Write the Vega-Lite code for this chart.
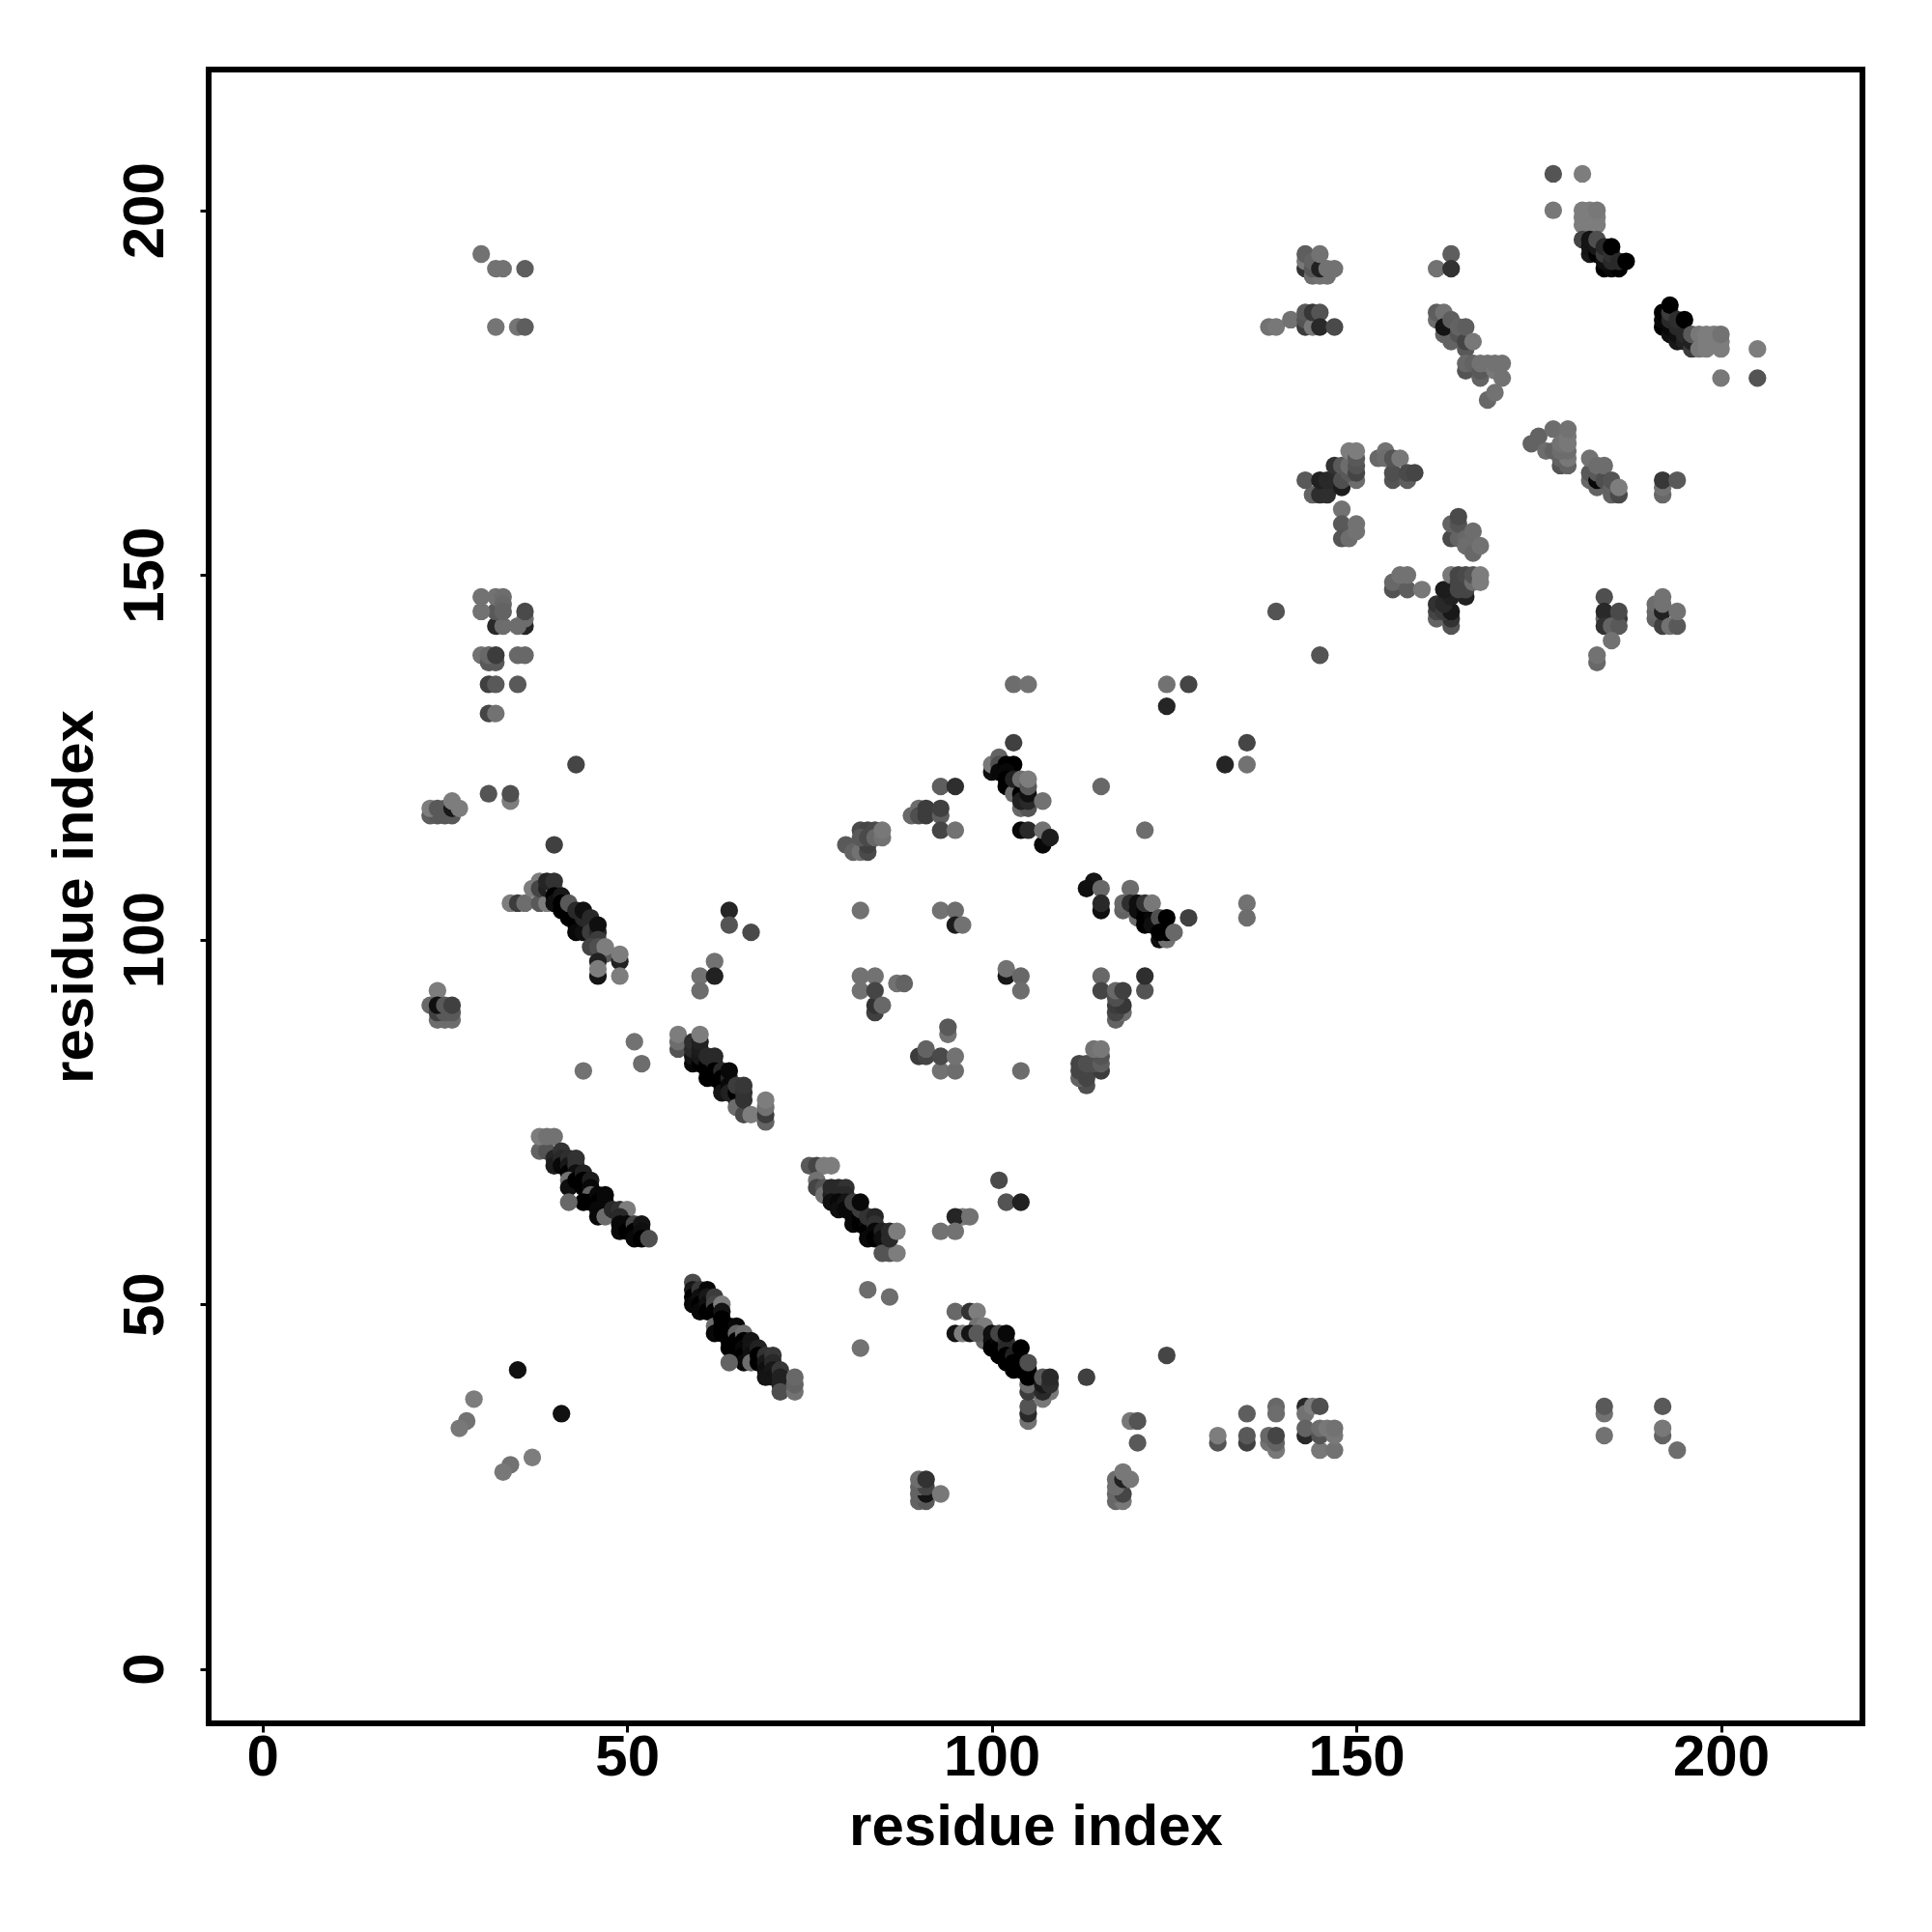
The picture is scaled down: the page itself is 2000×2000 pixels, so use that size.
{"$schema":"https://vega.github.io/schema/vega-lite/v6.json","autosize":"none","width":1712,"height":1712,"padding":{"left":216,"top":72,"right":72,"bottom":216},"background":"white","config":{"view":{"stroke":"#000000","strokeWidth":6}},"data":{"values":[
{"i":30,"j":194,"score":115},{"i":32,"j":192,"score":115},{"i":33,"j":192,"score":115},{"i":36,"j":192,"score":95},{"i":32,"j":184,"score":118},{"i":35,"j":184,"score":118},{"i":36,"j":184,"score":95},
{"i":32,"j":143,"score":40},{"i":36,"j":143,"score":35},{"i":35,"j":143,"score":110},{"i":33,"j":143,"score":110},{"i":36,"j":144,"score":110},{"i":36,"j":145,"score":75},{"i":32,"j":145,"score":90},{"i":30,"j":145,"score":115},{"i":30,"j":147,"score":115},{"i":32,"j":147,"score":115},{"i":33,"j":147,"score":110},{"i":33,"j":146,"score":105},{"i":33,"j":145,"score":100},
{"i":30,"j":139,"score":115},{"i":31,"j":138,"score":90},{"i":32,"j":138,"score":90},{"i":31,"j":139,"score":105},{"i":32,"j":139,"score":60},{"i":35,"j":139,"score":105},{"i":36,"j":139,"score":105},{"i":31,"j":135,"score":65},{"i":32,"j":135,"score":90},{"i":35,"j":135,"score":90},{"i":31,"j":131,"score":70},{"i":32,"j":131,"score":115},
{"i":43,"j":124,"score":70},{"i":31,"j":120,"score":85},{"i":34,"j":119,"score":125},{"i":34,"j":120,"score":80},
{"i":23,"j":117,"score":95},{"i":24,"j":117,"score":90},{"i":25,"j":117,"score":90},{"i":26,"j":117,"score":90},{"i":23,"j":118,"score":125},{"i":24,"j":118,"score":90},{"i":25,"j":118,"score":90},{"i":26,"j":118,"score":20},{"i":26,"j":119,"score":125},{"i":27,"j":118,"score":125},
{"i":40,"j":113,"score":65},
{"i":34,"j":105,"score":125},{"i":35,"j":105,"score":60},{"i":36,"j":105,"score":110},{"i":38,"j":105,"score":90},{"i":39,"j":105,"score":125},{"i":37,"j":107,"score":125},{"i":38,"j":108,"score":125},{"i":38,"j":107,"score":70},{"i":39,"j":107,"score":30},{"i":40,"j":107,"score":110},{"i":39,"j":108,"score":35},{"i":40,"j":108,"score":50},
{"i":40,"j":106,"score":0},{"i":40,"j":105,"score":10},{"i":41,"j":106,"score":20},{"i":41,"j":105,"score":0},{"i":41,"j":104,"score":0},{"i":42,"j":104,"score":0},{"i":42,"j":103,"score":0},{"i":43,"j":103,"score":0},{"i":43,"j":102,"score":0},{"i":44,"j":102,"score":0},{"i":43,"j":101,"score":5},{"i":44,"j":101,"score":10},{"i":42,"j":105,"score":90},{"i":43,"j":104,"score":40},{"i":44,"j":103,"score":40},{"i":45,"j":102,"score":40},{"i":44,"j":104,"score":10},{"i":45,"j":103,"score":40},{"i":45,"j":101,"score":60},{"i":46,"j":101,"score":40},{"i":46,"j":102,"score":10},{"i":46,"j":100,"score":60},{"i":45,"j":99,"score":70},{"i":46,"j":99,"score":80},{"i":47,"j":98,"score":90},{"i":47,"j":99,"score":125},{"i":49,"j":97,"score":30},{"i":49,"j":98,"score":125},{"i":46,"j":97,"score":30},{"i":46,"j":95,"score":15},{"i":46,"j":96,"score":125},{"i":49,"j":95,"score":125},
{"i":51,"j":86,"score":115},{"i":52,"j":83,"score":110},{"i":44,"j":82,"score":115},
{"i":62,"j":97,"score":115},{"i":60,"j":95,"score":115},{"i":62,"j":95,"score":30},{"i":60,"j":93,"score":110},{"i":64,"j":104,"score":35},{"i":64,"j":102,"score":85},{"i":67,"j":101,"score":75},
{"i":24,"j":93,"score":125},{"i":23,"j":91,"score":105},{"i":24,"j":89,"score":110},{"i":25,"j":89,"score":110},{"i":26,"j":89,"score":110},{"i":24,"j":90,"score":65},{"i":25,"j":90,"score":90},{"i":26,"j":90,"score":90},{"i":24,"j":91,"score":10},{"i":25,"j":91,"score":90},{"i":26,"j":91,"score":65},
{"i":57,"j":85,"score":85},{"i":57,"j":86,"score":110},{"i":57,"j":87,"score":125},{"i":59,"j":83,"score":5},{"i":59,"j":84,"score":15},{"i":59,"j":85,"score":40},{"i":59,"j":86,"score":45},{"i":60,"j":83,"score":0},{"i":60,"j":84,"score":20},{"i":60,"j":85,"score":25},{"i":60,"j":86,"score":30},{"i":60,"j":87,"score":125},{"i":61,"j":81,"score":0},{"i":61,"j":82,"score":0},{"i":61,"j":83,"score":0},{"i":61,"j":84,"score":40},{"i":62,"j":84,"score":40},{"i":62,"j":83,"score":40},{"i":62,"j":82,"score":0},{"i":62,"j":81,"score":0},{"i":63,"j":82,"score":40},{"i":63,"j":81,"score":0},{"i":63,"j":80,"score":0},{"i":63,"j":79,"score":15},{"i":64,"j":81,"score":40},{"i":64,"j":82,"score":5},{"i":64,"j":80,"score":5},{"i":64,"j":79,"score":30},{"i":65,"j":78,"score":30},{"i":65,"j":79,"score":0},{"i":65,"j":80,"score":60},{"i":65,"j":77,"score":110},{"i":66,"j":76,"score":75},{"i":66,"j":78,"score":50},{"i":66,"j":79,"score":50},{"i":66,"j":80,"score":55},{"i":67,"j":76,"score":125},{"i":69,"j":75,"score":100},{"i":69,"j":76,"score":60},{"i":69,"j":77,"score":115},{"i":69,"j":78,"score":125},
{"i":38,"j":71,"score":100},{"i":39,"j":71,"score":85},{"i":38,"j":73,"score":125},{"i":39,"j":73,"score":115},{"i":40,"j":73,"score":115},{"i":40,"j":70,"score":35},{"i":40,"j":69,"score":25},{"i":41,"j":71,"score":50},{"i":41,"j":70,"score":40},{"i":41,"j":69,"score":5},{"i":42,"j":70,"score":45},{"i":42,"j":69,"score":20},{"i":42,"j":68,"score":0},{"i":43,"j":70,"score":50},{"i":43,"j":69,"score":50},{"i":43,"j":68,"score":10},{"i":42,"j":67,"score":115},{"i":42,"j":66,"score":10},{"i":43,"j":67,"score":0},{"i":44,"j":68,"score":30},{"i":44,"j":67,"score":0},{"i":44,"j":66,"score":0},{"i":45,"j":67,"score":25},{"i":45,"j":66,"score":5},{"i":45,"j":65,"score":100},{"i":44,"j":64,"score":0},{"i":45,"j":64,"score":0},{"i":46,"j":65,"score":5},{"i":46,"j":64,"score":0},{"i":47,"j":65,"score":5},{"i":47,"j":64,"score":5},{"i":47,"j":63,"score":5},{"i":46,"j":63,"score":5},{"i":46,"j":62,"score":5},{"i":47,"j":62,"score":110},{"i":48,"j":63,"score":40},{"i":49,"j":63,"score":50},{"i":50,"j":63,"score":125},{"i":49,"j":62,"score":40},{"i":49,"j":61,"score":5},{"i":49,"j":60,"score":5},{"i":50,"j":61,"score":5},{"i":50,"j":60,"score":0},{"i":51,"j":61,"score":70},{"i":51,"j":60,"score":0},{"i":51,"j":59,"score":5},{"i":52,"j":61,"score":15},{"i":52,"j":60,"score":10},{"i":52,"j":59,"score":0},{"i":53,"j":59,"score":80},{"i":42,"j":64,"score":105},
{"i":75,"j":69,"score":90},{"i":76,"j":69,"score":70},{"i":77,"j":69,"score":125},{"i":78,"j":69,"score":125},{"i":76,"j":67,"score":115},{"i":76,"j":66,"score":70},{"i":77,"j":66,"score":85},{"i":77,"j":65,"score":115},{"i":78,"j":65,"score":30},{"i":78,"j":66,"score":40},{"i":79,"j":66,"score":40},{"i":80,"j":66,"score":50},{"i":79,"j":65,"score":40},{"i":80,"j":65,"score":40},{"i":78,"j":64,"score":10},{"i":79,"j":64,"score":5},{"i":79,"j":63,"score":10},{"i":80,"j":64,"score":15},{"i":80,"j":63,"score":5},{"i":81,"j":63,"score":5},{"i":81,"j":62,"score":5},{"i":81,"j":61,"score":5},{"i":82,"j":62,"score":0},{"i":82,"j":61,"score":0},{"i":83,"j":61,"score":5},{"i":83,"j":60,"score":0},{"i":83,"j":59,"score":5},{"i":81,"j":64,"score":60},{"i":82,"j":63,"score":60},{"i":83,"j":62,"score":50},{"i":82,"j":64,"score":5},{"i":84,"j":62,"score":35},{"i":84,"j":61,"score":50},{"i":84,"j":60,"score":5},{"i":84,"j":59,"score":0},{"i":85,"j":60,"score":30},{"i":85,"j":59,"score":10},{"i":86,"j":60,"score":40},{"i":85,"j":57,"score":85},{"i":86,"j":57,"score":85},{"i":87,"j":57,"score":125},{"i":86,"j":59,"score":40},{"i":87,"j":60,"score":125},
{"i":101,"j":67,"score":75},{"i":102,"j":64,"score":85},{"i":104,"j":64,"score":30},{"i":96,"j":62,"score":125},{"i":95,"j":62,"score":35},{"i":97,"j":62,"score":115},{"i":93,"j":60,"score":115},{"i":95,"j":60,"score":115},
{"i":59,"j":53,"score":75},{"i":59,"j":52,"score":20},{"i":59,"j":51,"score":0},{"i":59,"j":50,"score":5},{"i":60,"j":52,"score":55},{"i":60,"j":51,"score":10},{"i":60,"j":50,"score":0},{"i":60,"j":49,"score":5},{"i":61,"j":52,"score":5},{"i":61,"j":51,"score":20},{"i":61,"j":50,"score":10},{"i":61,"j":49,"score":0},{"i":62,"j":51,"score":60},{"i":62,"j":50,"score":70},{"i":62,"j":49,"score":0},{"i":62,"j":47,"score":110},{"i":62,"j":46,"score":5},{"i":63,"j":50,"score":125},{"i":63,"j":49,"score":15},{"i":63,"j":48,"score":0},{"i":63,"j":47,"score":0},{"i":63,"j":46,"score":0},{"i":64,"j":47,"score":0},{"i":64,"j":46,"score":0},{"i":64,"j":45,"score":0},{"i":64,"j":44,"score":0},{"i":65,"j":47,"score":5},{"i":65,"j":46,"score":100},{"i":65,"j":45,"score":0},{"i":65,"j":44,"score":0},{"i":66,"j":46,"score":110},{"i":66,"j":45,"score":0},{"i":66,"j":44,"score":5},{"i":66,"j":43,"score":0},{"i":66,"j":42,"score":5},{"i":67,"j":45,"score":15},{"i":67,"j":44,"score":15},{"i":67,"j":43,"score":10},{"i":67,"j":42,"score":110},{"i":64,"j":42,"score":100},{"i":68,"j":44,"score":30},{"i":68,"j":43,"score":0},{"i":68,"j":42,"score":0},{"i":69,"j":43,"score":50},{"i":69,"j":42,"score":20},{"i":69,"j":41,"score":10},{"i":69,"j":40,"score":15},{"i":70,"j":43,"score":55},{"i":70,"j":42,"score":40},{"i":70,"j":41,"score":20},{"i":70,"j":40,"score":15},{"i":71,"j":41,"score":55},{"i":71,"j":40,"score":30},{"i":71,"j":39,"score":30},{"i":71,"j":38,"score":80},{"i":73,"j":38,"score":115},{"i":73,"j":39,"score":100},{"i":73,"j":40,"score":105},
{"i":83,"j":52,"score":110},{"i":86,"j":51,"score":110},{"i":82,"j":44,"score":115},{"i":35,"j":41,"score":12},{"i":41,"j":35,"score":12},{"i":29,"j":37,"score":125},{"i":28,"j":34,"score":115},{"i":27,"j":33,"score":120},{"i":37,"j":29,"score":125},{"i":34,"j":28,"score":115},{"i":33,"j":27,"score":120},
{"i":95,"j":49,"score":105},{"i":97,"j":49,"score":50},{"i":98,"j":49,"score":125},{"i":99,"j":45,"score":105},{"i":98,"j":47,"score":115},{"i":99,"j":47,"score":125},{"i":95,"j":46,"score":15},{"i":96,"j":46,"score":125},{"i":97,"j":46,"score":15},{"i":98,"j":46,"score":90},{"i":100,"j":46,"score":10},{"i":100,"j":45,"score":10},{"i":100,"j":44,"score":0},{"i":101,"j":45,"score":5},{"i":101,"j":44,"score":0},{"i":101,"j":43,"score":0},{"i":101,"j":46,"score":70},{"i":102,"j":45,"score":50},{"i":102,"j":44,"score":40},{"i":102,"j":43,"score":0},{"i":102,"j":42,"score":0},{"i":102,"j":46,"score":5},{"i":103,"j":43,"score":30},{"i":103,"j":42,"score":0},{"i":103,"j":41,"score":0},{"i":104,"j":42,"score":0},{"i":104,"j":41,"score":0},{"i":104,"j":44,"score":0},{"i":105,"j":34,"score":115},{"i":105,"j":35,"score":40},{"i":105,"j":36,"score":85},{"i":105,"j":38,"score":60},{"i":105,"j":39,"score":110},{"i":105,"j":40,"score":0},{"i":105,"j":41,"score":0},{"i":105,"j":42,"score":80},{"i":107,"j":37,"score":120},{"i":108,"j":38,"score":120},{"i":107,"j":38,"score":40},{"i":107,"j":39,"score":20},{"i":107,"j":40,"score":90},{"i":108,"j":39,"score":45},{"i":108,"j":40,"score":40},
{"i":113,"j":40,"score":65},{"i":124,"j":43,"score":70},{"i":119,"j":34,"score":120},{"i":120,"j":34,"score":85},{"i":120,"j":31,"score":90},{"i":131,"j":31,"score":85},{"i":131,"j":32,"score":125},{"i":135,"j":35,"score":95},{"i":135,"j":31,"score":65},{"i":135,"j":32,"score":90},{"i":139,"j":36,"score":105},{"i":139,"j":35,"score":110},{"i":138,"j":31,"score":115},{"i":138,"j":32,"score":105},{"i":139,"j":30,"score":120},{"i":139,"j":31,"score":100},{"i":139,"j":32,"score":70},
{"i":143,"j":36,"score":40},{"i":143,"j":35,"score":115},{"i":144,"j":36,"score":125},{"i":145,"j":36,"score":80},{"i":143,"j":32,"score":40},{"i":143,"j":33,"score":100},{"i":145,"j":30,"score":120},{"i":147,"j":30,"score":115},{"i":145,"j":32,"score":85},{"i":145,"j":33,"score":110},{"i":146,"j":33,"score":120},{"i":147,"j":32,"score":120},{"i":147,"j":33,"score":115},
{"i":184,"j":32,"score":115},{"i":184,"j":35,"score":115},{"i":184,"j":36,"score":90},{"i":192,"j":36,"score":90},{"i":192,"j":32,"score":100},{"i":192,"j":33,"score":120},{"i":194,"j":30,"score":110},
{"i":117,"j":23,"score":105},{"i":118,"j":23,"score":120},{"i":117,"j":24,"score":105},{"i":118,"j":24,"score":70},{"i":117,"j":25,"score":110},{"i":117,"j":26,"score":110},{"i":118,"j":26,"score":30},{"i":119,"j":26,"score":120},{"i":118,"j":27,"score":120},
{"i":90,"j":23,"score":100},{"i":91,"j":23,"score":90},{"i":90,"j":24,"score":100},{"i":91,"j":24,"score":15},{"i":90,"j":25,"score":100},{"i":91,"j":25,"score":70},{"i":90,"j":26,"score":110},{"i":91,"j":26,"score":50},{"i":93,"j":24,"score":120},
{"i":103,"j":135,"score":110},{"i":105,"j":135,"score":115},{"i":124,"j":135,"score":115},{"i":127,"j":135,"score":70},{"i":124,"j":132,"score":35},{"i":135,"j":127,"score":70},{"i":132,"j":124,"score":35},{"i":135,"j":124,"score":115},{"i":103,"j":127,"score":65},
{"i":100,"j":123,"score":10},{"i":100,"j":124,"score":120},{"i":101,"j":125,"score":100},{"i":101,"j":124,"score":80},{"i":101,"j":123,"score":5},{"i":102,"j":124,"score":0},{"i":103,"j":124,"score":0},{"i":102,"j":123,"score":5},{"i":102,"j":122,"score":0},{"i":102,"j":121,"score":0},{"i":103,"j":121,"score":0},{"i":103,"j":120,"score":110},{"i":103,"j":122,"score":30},{"i":104,"j":120,"score":0},{"i":104,"j":118,"score":105},{"i":105,"j":118,"score":85},{"i":104,"j":119,"score":30},{"i":105,"j":119,"score":40},{"i":105,"j":120,"score":10},{"i":104,"j":122,"score":110},{"i":105,"j":121,"score":90},{"i":105,"j":122,"score":125},{"i":107,"j":119,"score":115},
{"i":104,"j":115,"score":5},{"i":105,"j":115,"score":40},{"i":107,"j":113,"score":5},{"i":107,"j":115,"score":115},{"i":108,"j":114,"score":25},{"i":121,"j":115,"score":110},{"i":115,"j":121,"score":105},{"i":93,"j":121,"score":95},{"i":95,"j":121,"score":45},
{"i":89,"j":117,"score":105},{"i":90,"j":118,"score":110},{"i":90,"j":117,"score":80},{"i":91,"j":117,"score":60},{"i":91,"j":118,"score":60},{"i":93,"j":117,"score":95},{"i":93,"j":118,"score":65},{"i":93,"j":115,"score":70},{"i":95,"j":115,"score":115},
{"i":80,"j":113,"score":90},{"i":81,"j":112,"score":100},{"i":82,"j":112,"score":115},{"i":83,"j":112,"score":75},{"i":83,"j":113,"score":65},{"i":82,"j":115,"score":75},{"i":83,"j":115,"score":70},{"i":84,"j":115,"score":75},{"i":82,"j":114,"score":90},{"i":83,"j":114,"score":75},{"i":84,"j":114,"score":105},{"i":85,"j":114,"score":115},{"i":85,"j":115,"score":120},
{"i":82,"j":104,"score":115},{"i":93,"j":104,"score":115},{"i":95,"j":104,"score":110},{"i":95,"j":102,"score":25},{"i":96,"j":102,"score":115},
{"i":114,"j":108,"score":15},{"i":113,"j":107,"score":10},{"i":115,"j":107,"score":105},{"i":115,"j":104,"score":10},{"i":115,"j":105,"score":40},
{"i":119,"j":107,"score":110},{"i":118,"j":104,"score":100},{"i":118,"j":105,"score":105},{"i":119,"j":105,"score":45},{"i":120,"j":103,"score":110},{"i":120,"j":104,"score":10},{"i":120,"j":105,"score":10},{"i":121,"j":104,"score":5},{"i":121,"j":102,"score":0},{"i":121,"j":103,"score":0},{"i":122,"j":103,"score":5},{"i":122,"j":102,"score":10},{"i":121,"j":105,"score":50},{"i":122,"j":105,"score":120},{"i":123,"j":103,"score":80},{"i":123,"j":100,"score":10},{"i":124,"j":100,"score":115},{"i":123,"j":101,"score":0},{"i":124,"j":101,"score":0},{"i":124,"j":103,"score":0},{"i":125,"j":101,"score":105},{"i":127,"j":103,"score":65},{"i":135,"j":105,"score":115},{"i":135,"j":103,"score":110},
{"i":82,"j":95,"score":115},{"i":84,"j":95,"score":115},{"i":82,"j":93,"score":115},{"i":84,"j":90,"score":65},{"i":84,"j":91,"score":50},{"i":84,"j":93,"score":70},{"i":85,"j":91,"score":105},{"i":87,"j":94,"score":115},{"i":88,"j":94,"score":100},
{"i":102,"j":95,"score":20},{"i":102,"j":96,"score":115},{"i":104,"j":95,"score":105},{"i":104,"j":93,"score":110},{"i":115,"j":95,"score":105},{"i":115,"j":93,"score":70},{"i":121,"j":93,"score":85},{"i":121,"j":95,"score":45},
{"i":117,"j":89,"score":100},{"i":118,"j":90,"score":110},{"i":117,"j":90,"score":70},{"i":117,"j":91,"score":60},{"i":118,"j":91,"score":55},{"i":117,"j":92,"score":80},{"i":117,"j":93,"score":105},{"i":118,"j":93,"score":65},
{"i":94,"j":87,"score":115},{"i":94,"j":88,"score":90},{"i":90,"j":84,"score":60},{"i":91,"j":84,"score":70},{"i":91,"j":85,"score":100},{"i":93,"j":82,"score":115},{"i":95,"j":82,"score":110},{"i":93,"j":84,"score":75},{"i":95,"j":84,"score":115},{"i":104,"j":82,"score":110},
{"i":113,"j":80,"score":80},{"i":112,"j":81,"score":100},{"i":113,"j":81,"score":70},{"i":112,"j":82,"score":70},{"i":113,"j":82,"score":70},{"i":115,"j":82,"score":60},{"i":112,"j":83,"score":70},{"i":113,"j":83,"score":80},{"i":114,"j":83,"score":80},{"i":115,"j":83,"score":95},{"i":115,"j":84,"score":85},{"i":114,"j":85,"score":115},{"i":115,"j":85,"score":120},
{"i":139,"j":145,"score":85},{"i":145,"j":139,"score":85},
{"i":144,"j":161,"score":100},{"i":145,"j":161,"score":45},{"i":146,"j":161,"score":45},{"i":143,"j":163,"score":90},{"i":145,"j":163,"score":30},{"i":146,"j":163,"score":40},{"i":147,"j":163,"score":40},{"i":148,"j":162,"score":25},{"i":147,"j":165,"score":50},{"i":148,"j":163,"score":80},{"i":148,"j":165,"score":90},{"i":150,"j":163,"score":110},{"i":149,"j":164,"score":90},{"i":149,"j":165,"score":110},{"i":149,"j":167,"score":125},{"i":150,"j":164,"score":70},{"i":150,"j":165,"score":85},{"i":150,"j":166,"score":90},{"i":150,"j":167,"score":125},
{"i":148,"j":159,"score":115},{"i":148,"j":157,"score":90},{"i":150,"j":157,"score":115},{"i":148,"j":155,"score":85},{"i":149,"j":155,"score":110},{"i":150,"j":156,"score":115},
{"i":153,"j":166,"score":105},{"i":154,"j":167,"score":115},{"i":154,"j":166,"score":110},{"i":155,"j":163,"score":85},{"i":157,"j":163,"score":95},{"i":155,"j":164,"score":80},{"i":155,"j":166,"score":85},{"i":156,"j":166,"score":120},{"i":157,"j":164,"score":75},{"i":158,"j":164,"score":70},
{"i":163,"j":155,"score":75},{"i":164,"j":155,"score":100},{"i":163,"j":157,"score":100},{"i":164,"j":157,"score":85},{"i":164,"j":158,"score":75},{"i":165,"j":155,"score":105},{"i":165,"j":154,"score":110},{"i":166,"j":153,"score":105},{"i":166,"j":156,"score":110},{"i":167,"j":154,"score":115},
{"i":155,"j":148,"score":85},{"i":155,"j":149,"score":105},{"i":157,"j":148,"score":95},{"i":156,"j":150,"score":115},{"i":157,"j":150,"score":115},{"i":159,"j":148,"score":120},
{"i":161,"j":144,"score":100},{"i":163,"j":143,"score":85},{"i":163,"j":144,"score":50},{"i":161,"j":145,"score":70},{"i":161,"j":146,"score":50},{"i":162,"j":145,"score":60},{"i":163,"j":145,"score":20},{"i":162,"j":146,"score":40},{"i":163,"j":147,"score":30},{"i":162,"j":148,"score":25},{"i":165,"j":147,"score":30},{"i":164,"j":148,"score":70},{"i":165,"j":148,"score":70},{"i":163,"j":150,"score":120},{"i":164,"j":149,"score":70},{"i":164,"j":150,"score":70},{"i":165,"j":150,"score":75},{"i":166,"j":149,"score":110},{"i":166,"j":150,"score":85},{"i":167,"j":149,"score":125},{"i":167,"j":150,"score":125},
{"i":184,"j":147,"score":80},{"i":184,"j":144,"score":100},{"i":184,"j":145,"score":40},{"i":184,"j":143,"score":50},{"i":186,"j":144,"score":55},{"i":185,"j":143,"score":100},{"i":186,"j":143,"score":90},{"i":186,"j":145,"score":75},{"i":185,"j":141,"score":115},{"i":183,"j":138,"score":105},{"i":183,"j":139,"score":115},
{"i":191,"j":144,"score":100},{"i":191,"j":145,"score":105},{"i":191,"j":146,"score":110},{"i":192,"j":143,"score":65},{"i":192,"j":145,"score":30},{"i":192,"j":146,"score":115},{"i":192,"j":147,"score":115},{"i":193,"j":143,"score":115},{"i":194,"j":143,"score":90},{"i":194,"j":145,"score":115},
{"i":192,"j":161,"score":105},{"i":192,"j":162,"score":115},{"i":192,"j":163,"score":55},{"i":194,"j":163,"score":90},
{"i":174,"j":168,"score":100},{"i":175,"j":169,"score":100},{"i":176,"j":167,"score":110},{"i":177,"j":167,"score":100},{"i":177,"j":170,"score":110},{"i":178,"j":165,"score":85},{"i":179,"j":165,"score":100},{"i":178,"j":166,"score":100},{"i":179,"j":166,"score":120},{"i":178,"j":167,"score":110},{"i":179,"j":167,"score":110},{"i":178,"j":168,"score":115},{"i":179,"j":168,"score":120},{"i":179,"j":169,"score":120},{"i":179,"j":170,"score":115},
{"i":182,"j":163,"score":105},{"i":182,"j":164,"score":90},{"i":182,"j":166,"score":115},{"i":183,"j":162,"score":100},{"i":183,"j":163,"score":5},{"i":183,"j":164,"score":90},{"i":183,"j":165,"score":110},{"i":184,"j":163,"score":80},{"i":184,"j":165,"score":110},{"i":185,"j":161,"score":100},{"i":185,"j":162,"score":100},{"i":185,"j":163,"score":85},{"i":186,"j":161,"score":75},{"i":186,"j":162,"score":125},
{"i":143,"j":192,"score":50},{"i":144,"j":191,"score":110},{"i":145,"j":191,"score":115},{"i":146,"j":191,"score":115},{"i":143,"j":193,"score":120},{"i":143,"j":194,"score":95},{"i":144,"j":192,"score":90},{"i":144,"j":193,"score":100},{"i":145,"j":192,"score":30},{"i":145,"j":194,"score":115},{"i":146,"j":192,"score":115},{"i":147,"j":192,"score":115},
{"i":163,"j":194,"score":95},{"i":161,"j":192,"score":115},{"i":163,"j":192,"score":50},
{"i":138,"j":184,"score":115},{"i":139,"j":184,"score":120},{"i":141,"j":185,"score":115},{"i":143,"j":184,"score":60},{"i":143,"j":185,"score":85},{"i":143,"j":186,"score":90},{"i":144,"j":184,"score":120},{"i":144,"j":186,"score":55},{"i":145,"j":186,"score":85},{"i":145,"j":184,"score":40},{"i":147,"j":184,"score":75},
{"i":163,"j":182,"score":100},{"i":162,"j":183,"score":100},{"i":161,"j":185,"score":110},{"i":161,"j":186,"score":95},{"i":162,"j":186,"score":115},{"i":162,"j":184,"score":15},{"i":163,"j":185,"score":95},{"i":164,"j":183,"score":85},{"i":164,"j":184,"score":100},{"i":165,"j":181,"score":90},{"i":165,"j":182,"score":70},{"i":165,"j":184,"score":95},{"i":166,"j":182,"score":120},
{"i":165,"j":178,"score":85},{"i":165,"j":179,"score":105},{"i":166,"j":179,"score":100},{"i":167,"j":177,"score":100},{"i":167,"j":178,"score":90},{"i":167,"j":179,"score":115},{"i":168,"j":179,"score":115},{"i":169,"j":178,"score":120},{"i":169,"j":179,"score":115},{"i":170,"j":177,"score":115},{"i":170,"j":179,"score":115},{"i":168,"j":174,"score":105},{"i":169,"j":175,"score":115},
{"i":177,"j":205,"score":85},{"i":181,"j":205,"score":125},{"i":177,"j":200,"score":120},{"i":181,"j":198,"score":125},{"i":182,"j":198,"score":125},{"i":183,"j":198,"score":125},{"i":181,"j":199,"score":125},{"i":182,"j":199,"score":125},{"i":183,"j":199,"score":125},{"i":181,"j":200,"score":125},{"i":182,"j":200,"score":125},{"i":183,"j":200,"score":120},
{"i":181,"j":196,"score":70},{"i":182,"j":194,"score":20},{"i":182,"j":195,"score":15},{"i":182,"j":196,"score":15},{"i":183,"j":194,"score":0},{"i":183,"j":195,"score":20},{"i":183,"j":196,"score":80},{"i":184,"j":192,"score":0},{"i":185,"j":192,"score":5},{"i":186,"j":192,"score":0},{"i":184,"j":193,"score":10},{"i":184,"j":194,"score":60},{"i":184,"j":195,"score":40},{"i":185,"j":193,"score":40},{"i":185,"j":194,"score":50},{"i":185,"j":195,"score":0},{"i":186,"j":193,"score":40},{"i":187,"j":193,"score":0},
{"i":192,"j":184,"score":0},{"i":192,"j":185,"score":5},{"i":192,"j":186,"score":0},{"i":193,"j":183,"score":10},{"i":193,"j":184,"score":5},{"i":193,"j":185,"score":40},{"i":193,"j":186,"score":60},{"i":193,"j":187,"score":0},{"i":194,"j":182,"score":20},{"i":194,"j":183,"score":10},{"i":194,"j":184,"score":40},{"i":194,"j":185,"score":45},{"i":195,"j":182,"score":30},{"i":195,"j":183,"score":40},{"i":195,"j":185,"score":0},{"i":196,"j":181,"score":60},{"i":196,"j":182,"score":30},{"i":196,"j":183,"score":90},
{"i":197,"j":181,"score":120},{"i":197,"j":183,"score":120},{"i":198,"j":181,"score":125},{"i":198,"j":182,"score":125},{"i":198,"j":183,"score":125},{"i":199,"j":183,"score":125},{"i":200,"j":181,"score":125},{"i":200,"j":182,"score":125},{"i":200,"j":183,"score":115},{"i":205,"j":181,"score":125},{"i":200,"j":177,"score":120},{"i":205,"j":177,"score":85}
]},"mark":{"type":"point","filled":true,"shape":"circle","size":335,"opacity":1,"strokeWidth":0},"encoding":{"x":{"field":"i","type":"quantitative","scale":{"domain":[-7.38,219.4],"nice":false,"zero":false},"axis":{"values":[0,50,100,150,200],"title":"residue index","grid":false,"domain":false,"tickColor":"#000000","tickWidth":3,"tickSize":9,"labelColor":"#000000","labelFont":"Liberation Sans","labelFontWeight":"bold","labelFontSize":60,"labelPadding":-3,"labelFlush":false,"labelOverlap":false,"titleColor":"#000000","titleFont":"Liberation Sans","titleFontWeight":"bold","titleFontSize":60,"titlePadding":13}},"y":{"field":"j","type":"quantitative","scale":{"domain":[-7.46,219.3],"nice":false,"zero":false},"axis":{"values":[0,50,100,150,200],"title":"residue index","grid":false,"domain":false,"tickColor":"#000000","tickWidth":3,"tickSize":9,"labelColor":"#000000","labelFont":"Liberation Sans","labelFontWeight":"bold","labelFontSize":60,"labelAngle":-90,"labelAlign":"center","labelBaseline":"bottom","labelPadding":26,"labelFlush":false,"labelOverlap":false,"titleColor":"#000000","titleFont":"Liberation Sans","titleFontWeight":"bold","titleFontSize":60,"titlePadding":12}},"color":{"field":"score","type":"quantitative","legend":null,"scale":{"domain":[0,128],"range":["#000000","#808080"]}}}}
